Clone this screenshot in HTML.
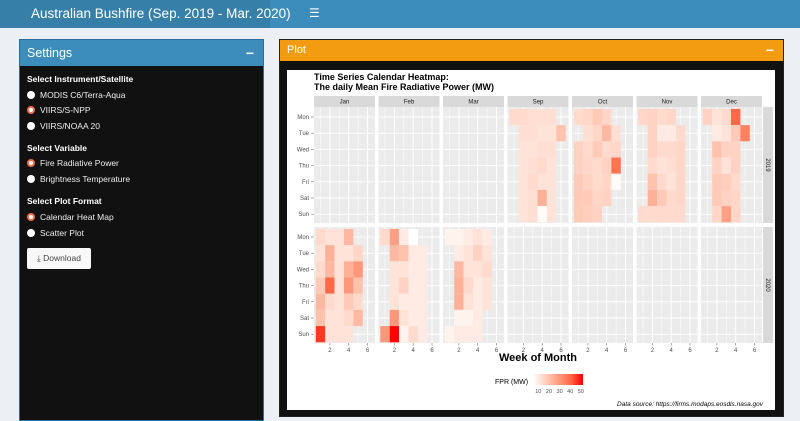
<!DOCTYPE html>
<html><head><meta charset="utf-8">
<style>
body{margin:0;width:800px;height:416px;overflow:hidden;background:#ecf0f5;font-family:"Liberation Sans",sans-serif;position:relative}
.abs{position:absolute}
.hdr-l{left:0;top:0;width:270px;height:28px;background:#367fa9}
.hdr-r{left:270px;top:0;width:530px;height:28px;background:#3c8dbc}
.title{left:31px;top:6px;color:#fff;font-size:13.5px}
.burger{left:309px;top:6px;color:#fff;font-size:12px}
.set{left:19px;top:39px;width:243px;height:380px;background:#111;border:1px solid #2a6f99}
.set-h{height:26px;background:#3c8dbc;color:#fff;font-size:12.5px;line-height:26px;padding-left:7px;position:relative}
.minus{position:absolute;right:9px;top:0;font-size:14px;font-weight:bold}
.lbl{color:#fff;font-weight:bold;font-size:8.5px;position:absolute;left:7px}
.rad{color:#eee;font-size:8.5px;position:absolute;left:7px;display:flex;align-items:center}
.dot{width:8px;height:8px;border-radius:50%;background:#fff;margin-right:5px;box-sizing:border-box}
.dot.on{background:#fff;border:2.5px solid #f0704a}
.btn{position:absolute;left:7px;top:208px;width:64px;height:21px;background:#f8f8f8;border-radius:2px;color:#444;font-size:8.5px;line-height:21px;text-align:center}
.plot{left:279px;top:39px;width:503px;height:376px;background:#111;border:1px solid #222}
.plot-h{height:21px;background:#f39c12;color:#fff;font-size:11px;line-height:21px;padding-left:7px;position:relative}
.white{left:287px;top:70px;width:488px;height:340px;background:#fff}
</style></head><body>
<div class="abs hdr-l"></div>
<div class="abs hdr-r"></div>
<div class="abs title">Australian Bushfire (Sep. 2019 - Mar. 2020)</div>
<div class="abs burger">&#9776;</div>

<div class="abs set">
 <div class="set-h">Settings<span class="minus">−</span></div>
 <div class="lbl" style="top:34px">Select Instrument/Satellite</div>
 <div class="rad" style="top:50px"><span class="dot"></span>MODIS C6/Terra-Aqua</div>
 <div class="rad" style="top:65px"><span class="dot on"></span>VIIRS/S-NPP</div>
 <div class="rad" style="top:81px"><span class="dot"></span>VIIRS/NOAA 20</div>
 <div class="lbl" style="top:103px">Select Variable</div>
 <div class="rad" style="top:118px"><span class="dot on"></span>Fire Radiative Power</div>
 <div class="rad" style="top:134px"><span class="dot"></span>Brightness Temperature</div>
 <div class="lbl" style="top:156px">Select Plot Format</div>
 <div class="rad" style="top:172px"><span class="dot on"></span>Calendar Heat Map</div>
 <div class="rad" style="top:188px"><span class="dot"></span>Scatter Plot</div>
 <div class="btn">&#10515; Download</div>
</div>

<div class="abs plot">
 <div class="plot-h">Plot<span class="minus">−</span></div>
</div>
<div class="abs white"></div>
<svg class="abs" style="left:0;top:0" width="800" height="416" id="chart"></svg>

<script>
const months=["Jan","Feb","Mar","Sep","Oct","Nov","Dec"];
const days=["Mon","Tue","Wed","Thu","Fri","Sat","Sun"];
const weekTicks=[2,4,6];
const legendTicks=[10,20,30,40,50];
const years=["2019","2020"];
const _=null;
const y2019={
Sep:[[14,14,13,13,13,_],[_,13,13,12,12,20],[_,12,12,13,13,_],[_,12,13,14,12,_],[_,12,14,12,12,_],[_,12,13,24,12,_],[_,12,13,6,12,_]],
Oct:[[14,15,18,15,_,_],[_,13,15,22,13,_],[16,14,18,14,15,_],[16,15,14,16,38,_],[18,16,14,15,6,_],[18,18,15,16,_,_],[18,17,16,_,_,_]],
Nov:[[15,16,14,15,_,_],[_,16,10,10,14,_],[_,16,14,14,15,_],[_,14,12,13,15,_],[_,20,14,12,15,_],[_,24,18,14,15,_],[14,14,14,14,14,_]],
Dec:[[16,12,14,40,_,_],[_,10,12,18,35,_],[_,20,16,16,_,_],[_,16,12,16,_,_],[_,18,17,14,_,_],[_,18,16,15,_,_],[_,15,28,15,_,_]]
};
const y2020={
Jan:[[14,12,12,22,_,_],[12,24,12,12,15,_],[14,22,12,24,30,_],[18,40,12,30,20,_],[22,14,12,18,14,_],[20,12,12,14,22,_],[48,12,12,12,_,_]],
Feb:[[14,28,10,4,_,_],[_,22,20,10,10,_],[_,12,12,10,10,_],[_,12,16,10,10,_],[_,12,10,10,10,_],[_,30,12,10,10,_],[30,52,8,14,10,_]],
Mar:[[8,8,10,12,10,_],[_,10,12,16,12,_],[_,22,12,12,14,_],[_,24,14,10,12,_],[_,24,12,10,12,_],[_,8,8,10,_,_],[8,10,10,10,_,_]]
};
const vmin=5,vmax=52;
const NS="http://www.w3.org/2000/svg";
const svg=document.getElementById('chart');
function mk(t,a,txt){const e=document.createElementNS(NS,t);for(const k in a)e.setAttribute(k,a[k]);if(txt!==undefined)e.textContent=txt;svg.appendChild(e);return e;}
function lab2rgb(L,a,b){
  let fy=(L+16)/116,fx=fy+a/500,fz=fy-b/200;
  const f=t=>t>0.206893?t*t*t:(t-16/116)/7.787;
  let X=0.95047*f(fx),Y=f(fy),Z=1.08883*f(fz);
  let r=3.2406*X-1.5372*Y-0.4986*Z,g=-0.9689*X+1.8758*Y+0.0415*Z,bb=0.0557*X-0.2040*Y+1.0570*Z;
  const gm=c=>{c=c>0.0031308?1.055*Math.pow(c,1/2.4)-0.055:12.92*c;return Math.round(Math.max(0,Math.min(1,c))*255);};
  return `rgb(${gm(r)},${gm(g)},${gm(bb)})`;
}
function color(v){const t=Math.max(0,Math.min(1,(v-vmin)/(vmax-vmin)));return lab2rgb(100+(53.24-100)*t,80.09*t,67.2*t);}
const panelX0=314,panelStep=64.5,panelW=61;
const rowY=[107,227],panelH=116;
function xWeek(i,w){return panelX0+i*panelStep+6.5+(w-1)*9.4;}
function yDay(r,d){return rowY[r]+10+d*16.2;}
let t=mk('text',{x:314,y:80,'font-size':9,'font-weight':'bold',fill:'#000'},'Time Series Calendar Heatmap:');

t=mk('text',{x:314,y:90,'font-size':9,'font-weight':'bold',fill:'#000'},'The daily Mean Fire Radiative Power (MW)');

months.forEach((m,i)=>{
  const x0=panelX0+i*panelStep;
  const s=mk('rect',{x:x0,y:96,width:panelW,height:11,fill:'#d9d9d9'});
  
  const st=mk('text',{x:x0+panelW/2,y:103.5,'font-size':6,fill:'#1a1a1a','text-anchor':'middle'},m);
  
  [0,1].forEach(r=>{
    const p=mk('rect',{x:x0,y:rowY[r],width:panelW,height:panelH,fill:'#ebebeb'});
    
    for(let w=1;w<=6;w++){const l=mk('line',{x1:xWeek(i,w),x2:xWeek(i,w),y1:rowY[r],y2:rowY[r]+panelH,stroke:'#fff','stroke-width':w%2==0?1:0.5});}
    for(let d=0;d<7;d++){const l=mk('line',{x1:x0,x2:x0+panelW,y1:yDay(r,d),y2:yDay(r,d),stroke:'#fff','stroke-width':1});}
    const data=(r==0?y2019:y2020)[m];
    if(data){data.forEach((row,d)=>row.forEach((v,w)=>{if(v===null)return;
      const c=mk('rect',{x:xWeek(i,w+1)-4.7,y:yDay(r,d)-8.1,width:9.4,height:16.2,fill:color(v)});
      
      }));}
  });
  weekTicks.forEach(w=>{
    const tk=mk('line',{x1:xWeek(i,w),x2:xWeek(i,w),y1:343,y2:345.5,stroke:'#555','stroke-width':0.5});
    const tl=mk('text',{x:xWeek(i,w),y:352,'font-size':6,fill:'#4d4d4d','text-anchor':'middle'},w);
  });
});
[0,1].forEach(r=>{
  const ys=mk('rect',{x:763,y:rowY[r],width:10,height:panelH,fill:'#d9d9d9'});
  const cy=rowY[r]+panelH/2;
  const yt=mk('text',{x:768,y:cy,'font-size':6,fill:'#1a1a1a','text-anchor':'middle',transform:`rotate(90 768 ${cy})`,dy:2},years[r]);
  days.forEach((d,k)=>{
    const dl=mk('text',{x:309,y:yDay(r,k)+2,'font-size':6,fill:'#4d4d4d','text-anchor':'end'},d);
    const tk=mk('line',{x1:311,x2:314,y1:yDay(r,k),y2:yDay(r,k),stroke:'#555','stroke-width':0.5});
  });
});
t=mk('text',{x:538,y:361,'font-size':11,'font-weight':'bold',fill:'#000','text-anchor':'middle'},'Week of Month');

const defs=mk('defs',{});
const lg=document.createElementNS(NS,'linearGradient');lg.setAttribute('id','lg');defs.appendChild(lg);
[0,0.25,0.5,0.75,1].forEach(o=>{const s=document.createElementNS(NS,'stop');s.setAttribute('offset',o);s.setAttribute('stop-color',color(vmin+o*(vmax-vmin)));lg.appendChild(s);});
const lx=v=>533+(v-vmin)/(vmax-vmin)*50;
t=mk('rect',{x:533,y:374,width:50,height:11,fill:'url(#lg)'});
t=mk('text',{x:495,y:384,'font-size':7,fill:'#000'},'FPR (MW)');
legendTicks.forEach(v=>{const l=mk('text',{x:lx(v),y:393,'font-size':5.5,fill:'#4d4d4d','text-anchor':'middle'},v);});
t=mk('text',{x:763,y:406,'font-size':6.5,'font-style':'italic',fill:'#000','text-anchor':'end'},'Data source: https://firms.modaps.eosdis.nasa.gov');

</script>
</body></html>
